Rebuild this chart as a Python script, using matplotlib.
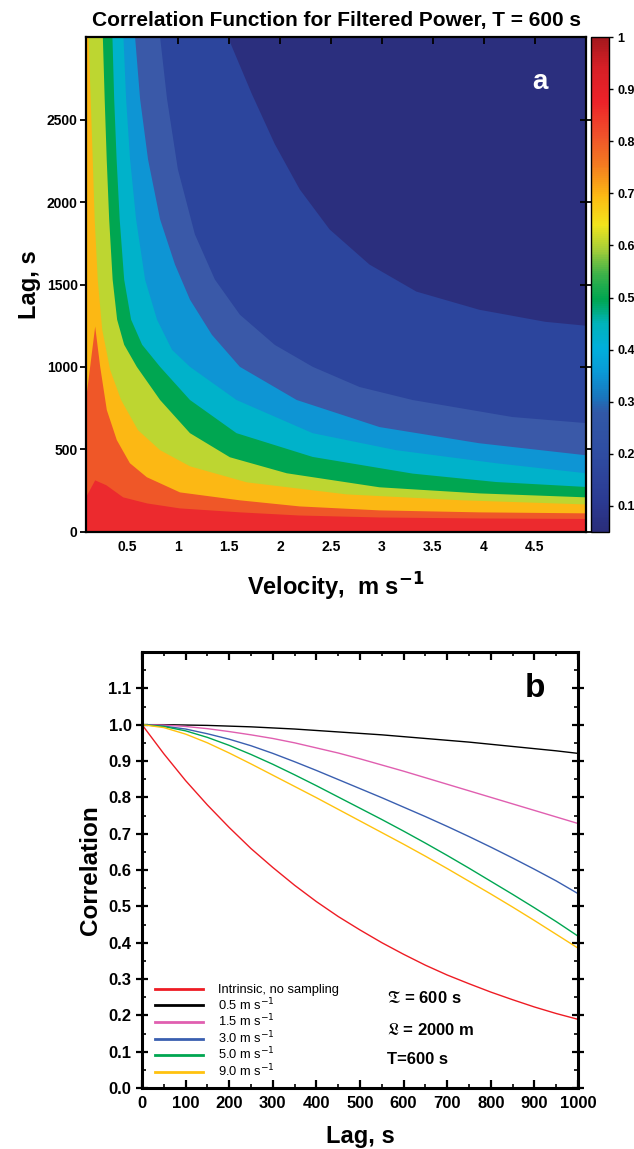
import numpy as np
import matplotlib
matplotlib.use("Agg")
import matplotlib.pyplot as plt
from matplotlib.colors import LinearSegmentedColormap, Normalize
from matplotlib.ticker import MultipleLocator
import matplotlib.cm as cm

plt.rcParams['font.family'] = ['Liberation Sans', 'DejaVu Sans']

# ---- panel a: contour boundaries (velocity m/s, lag s) ----
b10_v = [1.49, 1.725, 1.95, 2.194, 2.487, 2.878, 3.338, 3.954, 4.60, 5.00]
b10_lag = [3000, 2655, 2351, 2077, 1834, 1621, 1457, 1347, 1274, 1250]
b20_v = [0.826, 0.894, 1.00, 1.167, 1.363, 1.608, 1.95, 2.322, 2.78, 3.30, 4.277, 5.00]
b20_lag = [3000, 2625, 2199, 1804, 1530, 1317, 1134, 1001, 879, 800, 697, 660]
b30_v = [0.581, 0.63, 0.708, 0.826, 0.972, 1.119, 1.334, 1.608, 2.165, 2.976, 3.953, 5.00]
b30_lag = [3000, 2625, 2258, 1895, 1621, 1408, 1195, 1001, 800, 636, 538, 465]
b40_v = [0.467, 0.493, 0.532, 0.591, 0.679, 0.796, 0.943, 1.119, 1.575, 2.321, 3.139, 4.117, 5.00]
b40_lag = [3000, 2625, 2258, 1895, 1530, 1287, 1104, 1001, 800, 599, 496, 417, 356]
b50_v = [0.359, 0.376, 0.40, 0.43, 0.474, 0.542, 0.65, 0.826, 1.119, 1.575, 2.321, 3.30, 4.117, 5.00]
b50_lag = [3000, 2625, 2258, 1895, 1530, 1287, 1135, 1001, 800, 599, 455, 354, 303, 273]
b60_v = [0.265, 0.283, 0.303, 0.327, 0.361, 0.405, 0.474, 0.598, 0.826, 1.119, 1.51, 2.067,
         2.976, 3.953, 5.00]
b60_lag = [3000, 2625, 2258, 1895, 1530, 1287, 1135, 1001, 800, 599, 453, 356, 271, 234, 210]
b70_v = [0.125, 0.146, 0.166, 0.185, 0.215, 0.259, 0.337, 0.444, 0.61, 0.826, 1.119, 1.676,
         2.653, 3.787, 5.00]
b70_lag = [3000, 2625, 2258, 1895, 1530, 1226, 982, 800, 617, 496, 398, 301, 228, 192, 167]
b80_v = [0.10, 0.19, 0.239, 0.304, 0.402, 0.53, 0.696, 1.021, 1.608, 2.195, 2.976, 3.953, 5.00]
b80_lag = [800, 1245, 1001, 739, 557, 417, 332, 240, 192, 155, 131, 119, 113]
b90_v = [0.10, 0.19, 0.30, 0.464, 0.70, 1.02, 1.61, 2.19, 2.98, 3.95, 5.00]
b90_lag = [210, 313, 283, 210, 173, 143, 119, 100, 88, 82, 79]

band_colors = ['#2b2f7e', '#2c459d', '#3a59a8', '#0e95d4', '#00b2ca', '#00a651',
               '#bdd631', '#fcb814', '#ef5728', '#ec2a2e']
cbar_colors = [(0.0, '#2a2d7a'), (0.06, '#2b3a92'), (0.16, '#2f4da2'), (0.24, '#3158a7'),
               (0.27, '#1a74bc'), (0.32, '#0a98d6'), (0.37, '#00afdc'), (0.42, '#00b3bb'),
               (0.47, '#00a651'), (0.52, '#3bb14a'), (0.57, '#a3cd39'), (0.62, '#f1e51c'),
               (0.68, '#fdb913'), (0.74, '#f47d20'), (0.80, '#f0532a'), (0.87, '#ed2229'),
               (0.94, '#d61f26'), (1.0, '#a3181d')]

# ---- panel b: correlation vs lag ----
lag_b = [0, 50, 100, 150, 200, 250, 300, 350, 400, 450, 500,
         550, 600, 650, 700, 750, 800, 850, 900, 950, 1000]
intrinsic = [1.0, 0.920, 0.846, 0.779, 0.717, 0.659, 0.607, 0.558, 0.513, 0.472, 0.435,
             0.400, 0.368, 0.338, 0.311, 0.287, 0.264, 0.243, 0.223, 0.205, 0.189]
corr_05 = [1.0, 1.0, 0.999, 0.998, 0.996, 0.994, 0.991, 0.988, 0.984, 0.980, 0.976,
           0.972, 0.967, 0.962, 0.957, 0.952, 0.946, 0.940, 0.934, 0.928, 0.921]
corr_15 = [1.0, 0.999, 0.995, 0.989, 0.981, 0.972, 0.962, 0.950, 0.936, 0.922, 0.906,
           0.889, 0.872, 0.854, 0.836, 0.818, 0.800, 0.782, 0.764, 0.746, 0.728]
corr_30 = [1.0, 0.996, 0.988, 0.975, 0.960, 0.942, 0.921, 0.898, 0.874, 0.849, 0.824,
           0.799, 0.773, 0.747, 0.720, 0.692, 0.663, 0.633, 0.602, 0.570, 0.535]
corr_50 = [1.0, 0.995, 0.983, 0.965, 0.943, 0.918, 0.891, 0.862, 0.832, 0.801, 0.770,
           0.739, 0.707, 0.674, 0.640, 0.605, 0.569, 0.533, 0.496, 0.458, 0.418]
corr_90 = [1.0, 0.992, 0.974, 0.950, 0.922, 0.892, 0.861, 0.830, 0.799, 0.767, 0.735,
           0.703, 0.671, 0.638, 0.604, 0.569, 0.534, 0.498, 0.461, 0.423, 0.385]
series_b = [
    (intrinsic, '#ee1c24', 'Intrinsic, no sampling'),
    (corr_05, '#000000', '0.5 m s$^{-1}$'),
    (corr_15, '#e05fb0', '1.5 m s$^{-1}$'),
    (corr_30, '#3a5fb0', '3.0 m s$^{-1}$'),
    (corr_50, '#00a651', '5.0 m s$^{-1}$'),
    (corr_90, '#ffc20e', '9.0 m s$^{-1}$'),
]

W, H = 634, 1149
fig = plt.figure(figsize=(W / 100, H / 100), dpi=100)


def box(x0, y0, x1, y1):
    return [x0 / W, 1 - y1 / H, (x1 - x0) / W, (y1 - y0) / H]


# ================= panel a =================
vmin, vmax = 0.1, 5.0
lmax = 3000
ax = fig.add_axes(box(86, 37, 586, 532))
ax.set_xlim(vmin, vmax)
ax.set_ylim(0, lmax)
ax.add_patch(plt.Rectangle((vmin, 0), vmax - vmin, lmax, color=band_colors[0], lw=0, zorder=0))
bounds = [(b10_v, b10_lag), (b20_v, b20_lag), (b30_v, b30_lag), (b40_v, b40_lag),
          (b50_v, b50_lag), (b60_v, b60_lag), (b70_v, b70_lag), (b80_v, b80_lag),
          (b90_v, b90_lag)]
for i, (bv, bl) in enumerate(bounds):
    # region with correlation above this level lies below/left of the boundary
    xs = list(bv) + [vmax, vmin, vmin]
    ys = list(bl) + [0, 0, lmax]
    ax.fill(xs, ys, color=band_colors[i + 1], lw=0, zorder=1 + i)

ax.set_xticks([0.5, 1, 1.5, 2, 2.5, 3, 3.5, 4, 4.5])
ax.set_xticklabels(['0.5', '1', '1.5', '2', '2.5', '3', '3.5', '4', '4.5'])
ax.set_yticks([0, 500, 1000, 1500, 2000, 2500])
ax.tick_params(axis='both', which='major', direction='in', top=True, right=True,
               length=5, width=1.3, labelsize=10, pad=6)
ax.tick_params(axis='y', direction='inout', length=8, pad=2)
for lab in ax.get_xticklabels() + ax.get_yticklabels():
    lab.set_fontweight('bold')
for s in ax.spines.values():
    s.set_linewidth(1.6)
    s.set_zorder(20)
ax.set_title('Correlation Function for Filtered Power, T = 600 s',
             fontsize=15, fontweight='bold', pad=8)
ax.set_xlabel('Velocity,  m s$^{\\mathbf{-1}}$', fontsize=17, fontweight='bold', labelpad=12)
ax.set_ylabel('Lag, s', fontsize=17, fontweight='bold', labelpad=4)
ax.text(4.55, 2728, 'a', color='white', fontsize=20, fontweight='bold',
        ha='center', va='center', zorder=30)

cax = fig.add_axes(box(591, 37, 609, 532))
cmap = LinearSegmentedColormap.from_list('corr', cbar_colors)
sm = cm.ScalarMappable(norm=Normalize(0.05, 1.0), cmap=cmap)
cb = fig.colorbar(sm, cax=cax, ticks=[0.1, 0.2, 0.3, 0.4, 0.5, 0.6, 0.7, 0.8, 0.9, 1])
cb.ax.set_yticklabels(['0.1', '0.2', '0.3', '0.4', '0.5', '0.6', '0.7', '0.8', '0.9', '1'])
cb.ax.tick_params(length=3, width=1, labelsize=9, pad=3)
for lab in cb.ax.get_yticklabels():
    lab.set_fontweight('bold')
cb.outline.set_linewidth(1.0)

# ================= panel b =================
bx = fig.add_axes(box(142, 652, 578, 1088))
for ys, col, lab in series_b:
    bx.plot(lag_b, ys, color=col, lw=1.0, label=lab)
bx.set_xlim(0, 1000)
bx.set_ylim(0, 1.2)
bx.xaxis.set_major_locator(MultipleLocator(100))
bx.xaxis.set_minor_locator(MultipleLocator(50))
bx.set_yticks([0, 0.1, 0.2, 0.3, 0.4, 0.5, 0.6, 0.7, 0.8, 0.9, 1.0, 1.1])
bx.yaxis.set_minor_locator(MultipleLocator(0.05))
bx.tick_params(which='both', direction='in', top=True, right=True, labelsize=12)
bx.tick_params(which='major', length=6, width=1.6, pad=6)
bx.tick_params(which='minor', length=3, width=1.2)
bx.tick_params(axis='y', which='major', direction='inout', length=9, pad=3)
for lab in bx.get_xticklabels() + bx.get_yticklabels():
    lab.set_fontweight('bold')
for s in bx.spines.values():
    s.set_linewidth(2.2)
bx.set_xlabel('Lag, s', fontsize=17, fontweight='bold', labelpad=10)
bx.set_ylabel('Correlation', fontsize=17.5, fontweight='bold', labelpad=5)
bx.text(901, 1.1, 'b', fontsize=24, fontweight='bold', ha='center', va='center')
leg = bx.legend(loc='upper left', bbox_to_anchor=(0.03, 0.238), frameon=False,
                fontsize=9.3, handlelength=3.7, handletextpad=1.2, labelspacing=0.0,
                borderpad=0, borderaxespad=0)
for ln in leg.get_lines():
    ln.set_linewidth(2.0)
bx.text(561, 0.2475, '$\\mathfrak{T}$ = 600 s', fontsize=12, fontweight='bold',
        va='center', math_fontfamily='stix')
bx.text(561, 0.159, '$\\mathfrak{L}$ = 2000 m', fontsize=12, fontweight='bold',
        va='center', math_fontfamily='stix')
bx.text(561, 0.078, 'T=600 s', fontsize=12, fontweight='bold', va='center')

fig.savefig('out.png', dpi=100)
